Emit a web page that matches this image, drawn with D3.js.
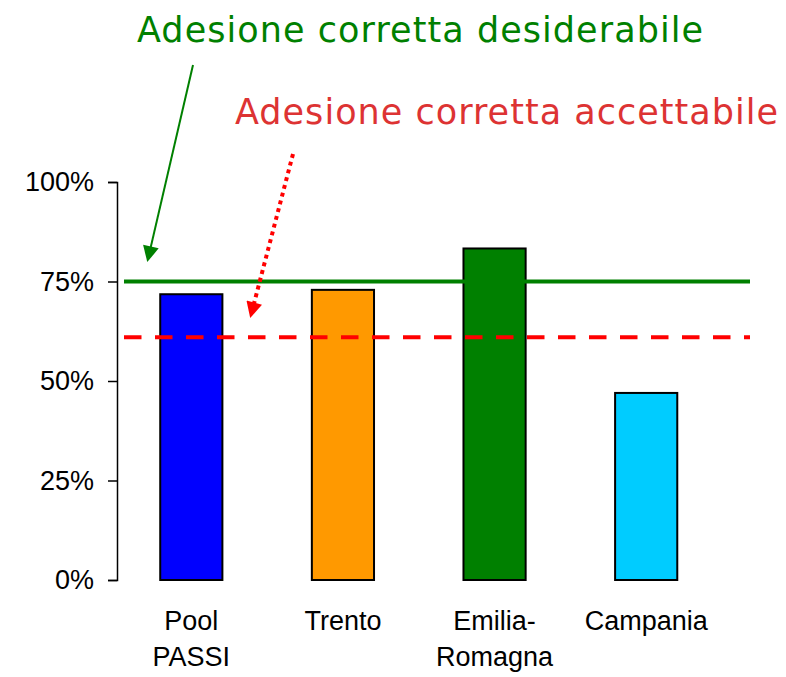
<!DOCTYPE html>
<html>
<head>
<meta charset="utf-8">
<script src="https://cdn.jsdelivr.net/npm/d3@7"></script>
<style>
    body { margin: 0; background: #fff; }
    svg { display: block; }
</style>
</head>
<body>
<svg width="786" height="677"></svg>
<script>
"use strict"

const categories = [["Pool", "PASSI"], ["Trento"], ["Emilia-", "Romagna"], ["Campania"]]
const values = [0.718, 0.729, 0.833, 0.47]
const barColors = ["#0000ff", "#ff9900", "#008000", "#00ccff"]
const tickValues = [0, 0.25, 0.5, 0.75, 1]
const desiredLevel = 0.75
const acceptableLevel = 0.61
const titles = ["Adesione corretta desiderabile", "Adesione corretta accettabile"]

const svg = d3.select("svg")

const x = d3.scaleBand()
    .domain(d3.range(categories.length))
    .range([115.5, 722])
    .paddingInner(0.59)
    .paddingOuter(0.295)

const y = d3.scaleLinear().domain([0, 1]).range([580, 182])

// y axis
const yAxis = svg.append("g")
    .attr("transform", "translate(117,0)")
    .call(d3.axisLeft(y).tickValues(tickValues).tickFormat(d3.format(".0%")).tickSizeOuter(0).tickSize(9).tickPadding(14))
yAxis.select(".domain").attr("stroke", "#000").attr("stroke-width", 1.5)
yAxis.selectAll(".tick line").attr("stroke", "#000").attr("stroke-width", 1.5)
yAxis.selectAll(".tick text")
    .attr("font-family", "Liberation Sans, Arial, sans-serif")
    .attr("font-size", "27px")
    .attr("fill", "#000")

// bars
svg.selectAll(".bar")
    .data(values)
    .join("rect")
    .attr("class", "bar")
    .attr("x", (d, i) => x(i))
    .attr("width", x.bandwidth())
    .attr("y", (d) => y(d))
    .attr("height", (d) => y(0) - y(d))
    .attr("fill", (d, i) => barColors[i])
    .attr("stroke", "#000")
    .attr("stroke-width", 2)

// category labels
const labels = svg.selectAll(".cat")
    .data(categories)
    .join("text")
    .attr("class", "cat")
    .attr("font-family", "Liberation Sans, Arial, sans-serif")
    .attr("font-size", "27px")
    .attr("text-anchor", "middle")
    .attr("fill", "#000")
labels.selectAll("tspan")
    .data((d, i) => d.map((line) => ({ line, i })))
    .join("tspan")
    .attr("x", (d) => x(d.i) + x.bandwidth() / 2)
    .attr("y", (d, j) => 630 + j * 36)
    .text((d) => d.line)

// reference lines
const lineX0 = 124
const lineX1 = 750
svg.append("line")
    .attr("x1", lineX0).attr("x2", lineX1)
    .attr("y1", y(desiredLevel)).attr("y2", y(desiredLevel))
    .attr("stroke", "#008000")
    .attr("stroke-width", 4)
svg.append("line")
    .attr("x1", lineX0).attr("x2", lineX1)
    .attr("y1", y(acceptableLevel)).attr("y2", y(acceptableLevel))
    .attr("stroke", "#ff0000")
    .attr("stroke-width", 4)
    .attr("stroke-dasharray", "17.5,13.5")

// arrowheads
const defs = svg.append("defs")
const addMarker = (id, color) => {
    defs.append("marker")
        .attr("id", id)
        .attr("viewBox", "0 0 10 10")
        .attr("refX", 8)
        .attr("refY", 5)
        .attr("markerUnits", "userSpaceOnUse")
        .attr("markerWidth", 18)
        .attr("markerHeight", 16)
        .attr("orient", "auto")
        .append("path")
        .attr("d", "M0,0L10,5L0,10Z")
        .attr("fill", color)
}
addMarker("arrowGreen", "#008000")
addMarker("arrowRed", "#ff0000")

svg.append("line")
    .attr("x1", 193).attr("y1", 65)
    .attr("x2", 148).attr("y2", 259)
    .attr("stroke", "#008000")
    .attr("stroke-width", 2)
    .attr("marker-end", "url(#arrowGreen)")

svg.append("line")
    .attr("x1", 293).attr("y1", 154)
    .attr("x2", 251).attr("y2", 315)
    .attr("stroke", "#ff0000")
    .attr("stroke-width", 4)
    .attr("stroke-dasharray", "4,4")
    .attr("marker-end", "url(#arrowRed)")

// titles
svg.append("text")
    .attr("x", 137)
    .attr("y", 42)
    .attr("font-family", "DejaVu Sans, Verdana, sans-serif")
    .attr("font-size", "35px")
    .attr("fill", "#008000")
    .attr("textLength", 566)
    .attr("lengthAdjust", "spacing")
    .text(titles[0])
svg.append("text")
    .attr("x", 235)
    .attr("y", 124)
    .attr("font-family", "DejaVu Sans, Verdana, sans-serif")
    .attr("font-size", "35px")
    .attr("fill", "#dd3333")
    .attr("textLength", 543)
    .attr("lengthAdjust", "spacing")
    .text(titles[1])
</script>
</body>
</html>
